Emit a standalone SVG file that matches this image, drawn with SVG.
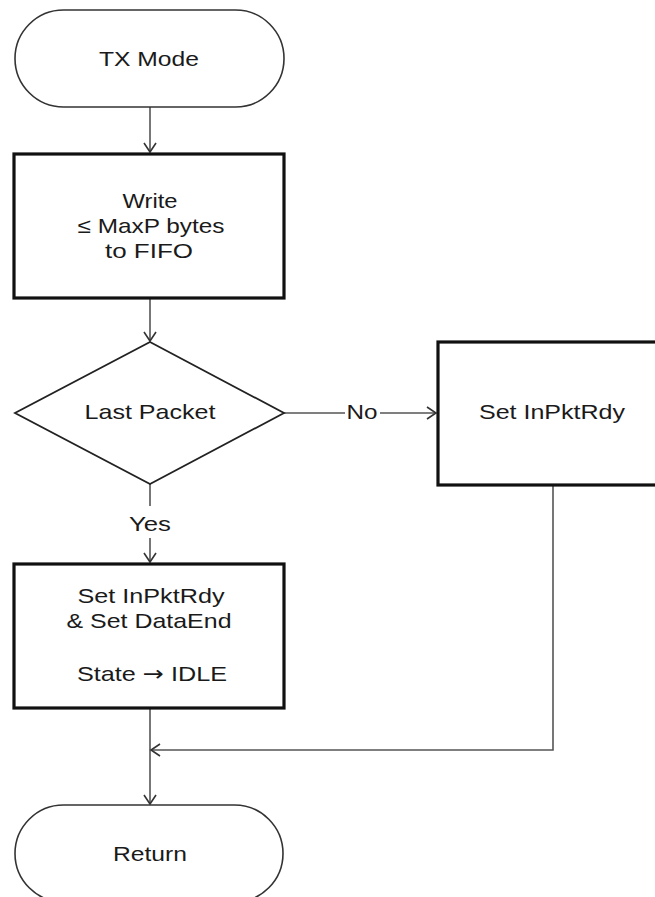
<svg xmlns="http://www.w3.org/2000/svg" width="655" height="897" viewBox="0 0 655 897">
<style>
.t{font-family:"Liberation Sans",Arial,sans-serif;font-size:21px;fill:#1a1a1a;text-anchor:middle}
.ar{font-family:"DejaVu Sans",sans-serif}
.term{fill:#fff;stroke:#333;stroke-width:1.6}
.box{fill:#fff;stroke:#111;stroke-width:3.2}
.dec{fill:#fff;stroke:#222;stroke-width:1.8}
.c{fill:none;stroke:#555;stroke-width:1.6}
</style>
<defs>
<marker id="a" markerUnits="userSpaceOnUse" markerWidth="14" markerHeight="14" refX="11" refY="7" orient="auto">
<path d="M2,1 L11,7 L2,13" fill="none" stroke="#333" stroke-width="1.6"/>
</marker>
</defs>
<g id="connectors">
<line class="c" x1="150" y1="107" x2="150" y2="152" marker-end="url(#a)"/>
<line class="c" x1="150" y1="298" x2="150" y2="341" marker-end="url(#a)"/>
<line class="c" x1="284" y1="413" x2="345" y2="413"/>
<line class="c" x1="380" y1="413" x2="436" y2="413" marker-end="url(#a)"/>
<line class="c" x1="150" y1="484" x2="150" y2="506"/>
<line class="c" x1="150" y1="538" x2="150" y2="562" marker-end="url(#a)"/>
<line class="c" x1="150" y1="708" x2="150" y2="804" marker-end="url(#a)"/>
<polyline class="c" points="553,486 553,750 151,750" marker-end="url(#a)"/>
<text class="t" x="362" y="419" textLength="31" lengthAdjust="spacingAndGlyphs">No</text>
<text class="t" x="150" y="531" textLength="42" lengthAdjust="spacingAndGlyphs">Yes</text>
</g>
<g id="tx-mode">
<rect class="term" x="15" y="10" width="269" height="97" rx="48.5"/>
<text class="t" x="149" y="66" textLength="100" lengthAdjust="spacingAndGlyphs">TX Mode</text>
</g>
<g id="write">
<rect class="box" x="14" y="154" width="270" height="144"/>
<text class="t" x="150" y="208" textLength="55" lengthAdjust="spacingAndGlyphs">Write</text>
<text class="t" x="151" y="233" textLength="147" lengthAdjust="spacingAndGlyphs">≤ MaxP bytes</text>
<text class="t" x="149" y="258" textLength="88" lengthAdjust="spacingAndGlyphs">to FIFO</text>
</g>
<g id="last-packet">
<polygon class="dec" points="150,342 284,413 150,484 15,413"/>
<text class="t" x="150" y="419" textLength="131" lengthAdjust="spacingAndGlyphs">Last Packet</text>
</g>
<g id="set-inpktrdy">
<rect class="box" x="438" y="342" width="232" height="143"/>
<text class="t" x="552" y="419" textLength="146" lengthAdjust="spacingAndGlyphs">Set InPktRdy</text>
</g>
<g id="set-dataend">
<rect class="box" x="14" y="564" width="270" height="144"/>
<text class="t" x="151" y="603" textLength="147" lengthAdjust="spacingAndGlyphs">Set InPktRdy</text>
<text class="t" x="149" y="628" textLength="165" lengthAdjust="spacingAndGlyphs">&amp; Set DataEnd</text>
<text class="t" x="152" y="681" textLength="150" lengthAdjust="spacingAndGlyphs">State <tspan class="ar">→</tspan> IDLE</text>
</g>
<g id="return">
<rect class="term" x="15" y="805" width="268" height="97" rx="48.5"/>
<text class="t" x="150" y="861" textLength="74" lengthAdjust="spacingAndGlyphs">Return</text>
</g>
</svg>
